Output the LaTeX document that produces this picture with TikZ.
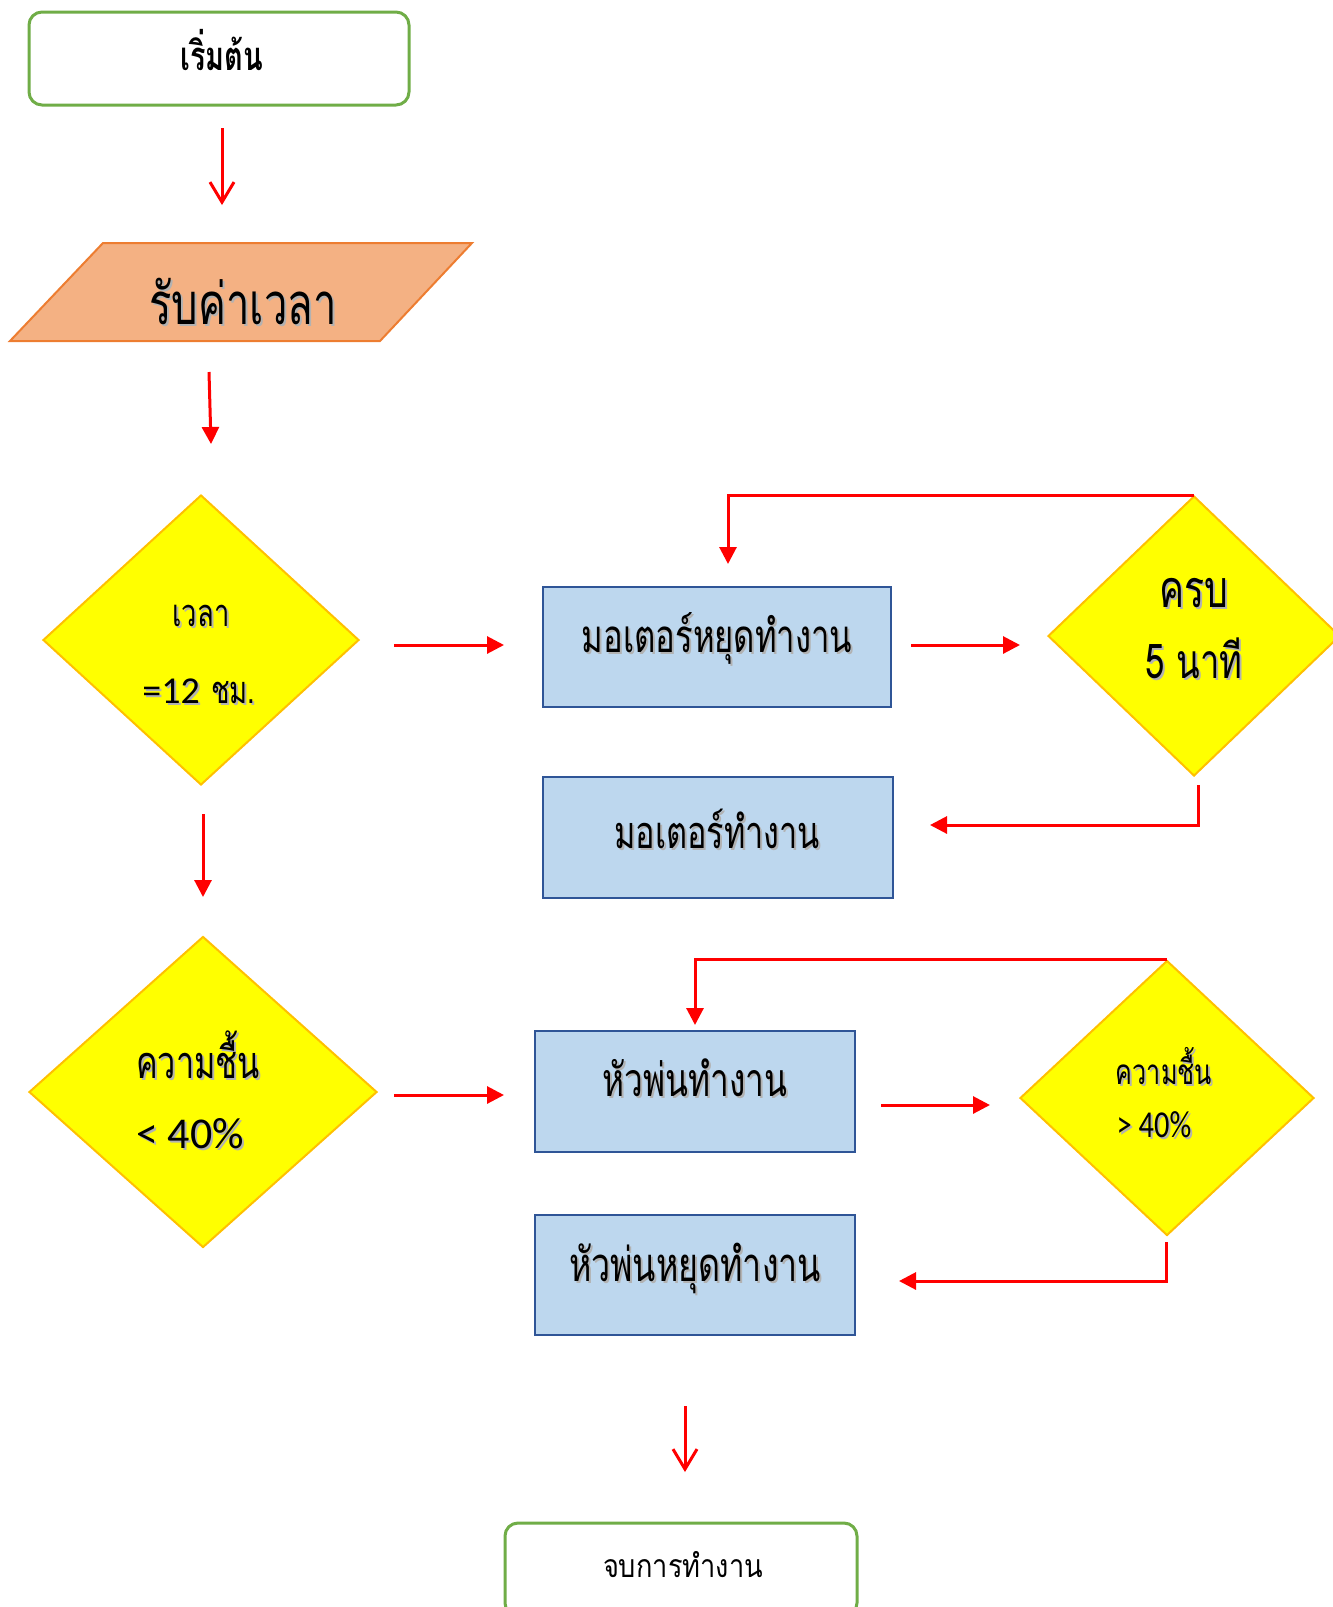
\documentclass[tikz,border=0pt]{standalone}
\usepackage{fontspec}
\usetikzlibrary{arrows.meta,shapes.geometric}
\newfontfamily\thnar[Script=Thai,FakeStretch=0.72]{Loma}
\newfontfamily\thend[Script=Thai,FakeStretch=0.85]{Loma}
\newfontfamily\calib{Carlito}
\newfontfamily\calibnar[FakeStretch=0.8]{Carlito}
\definecolor{startgreen}{HTML}{70AD47}
\definecolor{parafill}{HTML}{F4B183}
\definecolor{paraedge}{HTML}{ED7D31}
\definecolor{diayel}{HTML}{FFFF00}
\definecolor{diaedge}{HTML}{FFC000}
\definecolor{boxfill}{HTML}{BDD7EE}
\definecolor{boxedge}{HTML}{2F5597}
\newcommand\txtshadow[1]{\makebox[0pt][l]{\kern1pt\raisebox{-1pt}{\textcolor{black!30}{#1}}}#1}
\begin{document}
\begin{tikzpicture}[x=0.5pt,y=-0.5pt,
  term/.style={draw=startgreen, line width=1.5pt, rounded corners=6.5pt, fill=white,
    minimum width=190pt, minimum height=46.5pt, inner sep=0pt},
  procbox/.style={draw=boxedge, line width=1.2pt, fill=boxfill, inner sep=0pt,
    minimum width=174pt, minimum height=60pt},
  dia/.style={shape=diamond, draw=diaedge, fill=diayel, line width=1pt, inner sep=0pt},
  lbl/.style={anchor=base, inner sep=0pt, text=black},
  arr/.style={draw=red, line width=1.5pt, -{Triangle[length=8.5pt,width=8.5pt]}},
  varr/.style={draw=red, line width=1.5pt, -{Straight Barb[length=10pt,width=12pt,line width=1.5pt]}}
]
\useasboundingbox (0,0) rectangle (1333,1607);
\clip (0,0) rectangle (1333,1607);

% start
\node[term] (start) at (219,58.5) {};
\node[lbl, font=\thnar\bfseries\fontsize{20}{24}\selectfont] (startt) at (222,70) {เริ่มต้น};

% input parallelogram
\draw[fill=parafill, draw=paraedge, line width=1pt] (10,341) -- (103,243) -- (472,243) -- (380,341) -- cycle;
\node[lbl, font=\thnar\fontsize{29}{34}\selectfont] (para) at (243,324) {\txtshadow{รับค่าเวลา}};

% decision 1
\node[dia, minimum width=158pt, minimum height=145pt] (d1) at (201,640) {};
\node[lbl, font=\thnar\fontsize{19}{23}\selectfont] (d1a) at (201,626) {\txtshadow{เวลา}};
\node[lbl, font=\fontsize{19}{23}\selectfont] (d1b) at (199,703) {\txtshadow{{\calib =12} {\thnar ชม.}}};

% boxes motor
\node[procbox] (b1) at (717,647) {};
\node[lbl, font=\thnar\fontsize{22.8}{28}\selectfont] (b1t) at (717,652) {\txtshadow{มอเตอร์หยุดทำงาน}};
\node[procbox, minimum width=175pt, minimum height=60.5pt] (b2) at (718,837.5) {};
\node[lbl, font=\thnar\fontsize{22.5}{28}\selectfont] (b2t) at (717,848) {\txtshadow{มอเตอร์ทำงาน}};

% decision 2
\node[dia, minimum width=146pt, minimum height=140pt] (d2) at (1194,636) {};
\node[lbl, font=\thnar\fontsize{26}{32}\selectfont] (d2a) at (1194,607) {\txtshadow{ครบ}};
\node[lbl, font=\thnar\fontsize{24}{32}\selectfont] (d2b) at (1194,678) {\txtshadow{5 นาที}};

% decision 3
\node[dia, minimum width=174pt, minimum height=155.5pt] (d3) at (203,1092) {};
\node[lbl, font=\thnar\fontsize{22.5}{27}\selectfont] (d3a) at (198,1078) {\txtshadow{ความชื้น}};
\node[lbl, font=\calib\fontsize{22}{26}\selectfont] (d3b) at (190,1148) {\txtshadow{< 40\%}};

% boxes spray
\node[procbox, minimum width=160pt, minimum height=60.5pt] (b3) at (695,1091.5) {};
\node[lbl, font=\thnar\fontsize{23.2}{30}\selectfont] (b3t) at (695,1096) {\txtshadow{หัวพ่นทำงาน}};
\node[procbox, minimum width=160pt, minimum height=60pt] (b4) at (695,1275) {};
\node[lbl, font=\thnar\fontsize{23.6}{30}\selectfont] (b4t) at (695,1281) {\txtshadow{หัวพ่นหยุดทำงาน}};

% decision 4
\node[dia, minimum width=147pt, minimum height=137.5pt] (d4) at (1167,1098) {};
\node[lbl, font=\thnar\fontsize{17.5}{21}\selectfont] (d4a) at (1164,1084) {\txtshadow{ความชื้น}};
\node[lbl, font=\calibnar\fontsize{19}{23}\selectfont] (d4b) at (1154,1137) {\txtshadow{> 40\%}};

% end
\node[term, minimum width=176pt] (endn) at (681,1569.5) {};
\node[lbl, font=\thend\fontsize{16}{19}\selectfont] (endt) at (683,1577) {จบการทำงาน};

% connector coordinates
\coordinate (a1s) at (222,128);  \coordinate (a1e) at (222,205);
\coordinate (a2s) at (209,372);  \coordinate (a2e) at (211,444);
\coordinate (a3s) at (203,814);  \coordinate (a3e) at (203,897);
\coordinate (h1s) at (394,645);  \coordinate (h1e) at (504,645);
\coordinate (h2s) at (911,645);  \coordinate (h2e) at (1020,645);
\coordinate (l1e) at (728,564);
\coordinate (r1s) at (1198,785); \coordinate (r1e) at (930,825);
\coordinate (h3s) at (394,1095); \coordinate (h3e) at (504,1095);
\coordinate (h4s) at (881,1105); \coordinate (h4e) at (990,1105);
\coordinate (l2e) at (695,1025);
\coordinate (r2s) at (1166,1242); \coordinate (r2e) at (899,1281);
\coordinate (a4s) at (685,1406); \coordinate (a4e) at (685,1472);

\draw[varr] (a1s) -- (a1e);
\draw[arr] (a2s) -- (a2e);
\draw[arr] (a3s) -- (a3e);
\draw[arr] (h1s) -- (h1e);
\draw[arr] (h2s) -- (h2e);
\draw[arr] (d2.north) -| (l1e);
\draw[arr] (r1s) |- (r1e);
\draw[arr] (h3s) -- (h3e);
\draw[arr] (h4s) -- (h4e);
\draw[arr] (d4.north) -| (l2e);
\draw[arr] (r2s) |- (r2e);
\draw[varr] (a4s) -- (a4e);
\end{tikzpicture}
\end{document}
